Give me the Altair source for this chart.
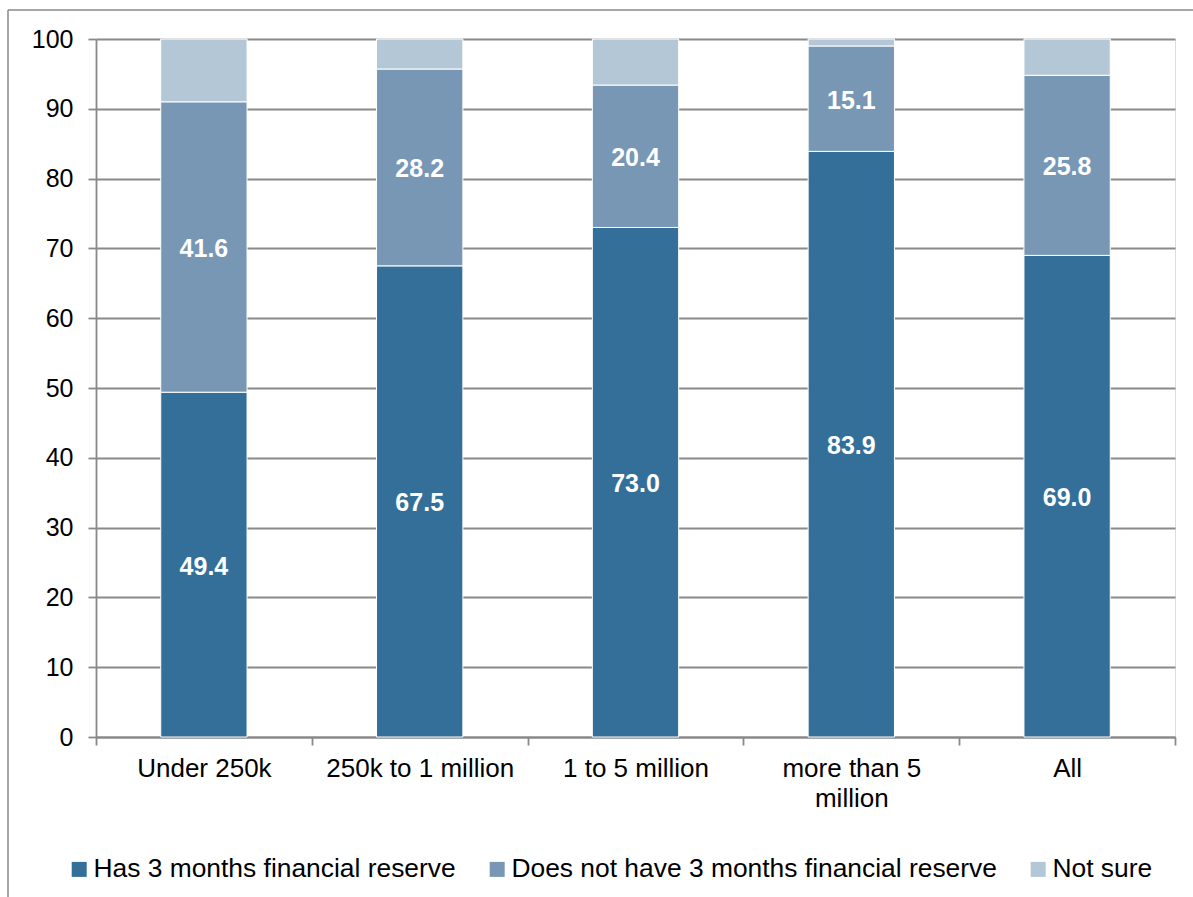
import altair as alt
import pandas as pd

categories = ["Under 250k", "250k to 1 million", "1 to 5 million", "more than 5 million", "All"]
series = ["Has 3 months financial reserve", "Does not have 3 months financial reserve", "Not sure"]
has_reserve = [49.4, 67.5, 73.0, 83.9, 69.0]
no_reserve = [41.6, 28.2, 20.4, 15.1, 25.8]
not_sure = [9.0, 4.3, 6.6, 1.0, 5.2]
colors = ["#346f99", "#7897b5", "#b4c7d7"]

rows = []
for i, c in enumerate(categories):
    for k, (s, vals) in enumerate(zip(series, [has_reserve, no_reserve, not_sure])):
        rows.append({"category": c, "series": s, "value": vals[i], "order": k,
                     "label": f"{vals[i]:.1f}" if k < 2 else ""})
df = pd.DataFrame(rows)

FONT = "Liberation Sans"
GRID = "#898989"

x_enc = alt.X("category:N", sort=categories, title=None,
              scale=alt.Scale(paddingInner=0, paddingOuter=0),
              axis=alt.Axis(labelAngle=0, labelFontSize=26, labelFont=FONT, labelColor="#000",
                            labelPadding=10, tickSize=8, tickColor=GRID, tickWidth=1.8,
                            domainColor=GRID, domainWidth=1.8, tickBand="extent",
                            labelLimit=400, labelLineHeight=30,
                            labelExpr="datum.label == 'more than 5 million' ? ['more than 5', 'million'] : datum.label"))

bars = alt.Chart(df).mark_bar(width={"band": 0.4}, stroke="white", strokeWidth=1).encode(
    x=x_enc,
    y=alt.Y("value:Q", stack="zero", title=None,
            scale=alt.Scale(domain=[0, 100], nice=False),
            axis=alt.Axis(values=list(range(0, 101, 10)), labelFontSize=25, labelFont=FONT,
                          labelColor="#000", labelPadding=15, tickSize=8, tickColor=GRID,
                          tickWidth=1.8, domainColor=GRID, domainWidth=1.8,
                          gridColor=GRID, gridWidth=1.8, grid=True)),
    color=alt.Color("series:N", sort=series, scale=alt.Scale(domain=series, range=colors),
                    legend=alt.Legend(title=None, orient="none", direction="horizontal",
                                      legendX=-30, legendY=817, symbolType="square",
                                      symbolSize=225, symbolStrokeWidth=0, labelFontSize=26.4,
                                      labelFont=FONT, labelColor="#000", labelOffset=1,
                                      columnPadding=28, labelLimit=800)),
    order=alt.Order("order:Q"),
)

labels = alt.Chart(df).transform_stack(
    stack="value", groupby=["category"], as_=["y0", "y1"],
    sort=[alt.SortField("order", order="ascending")]
).transform_calculate(mid="(datum.y0 + datum.y1) / 2").transform_filter(
    "datum.label != ''"
).mark_text(color="white", fontSize=25, fontWeight="bold", font=FONT, dy=2).encode(
    x=alt.X("category:N", sort=categories),
    y=alt.Y("mid:Q"),
    text="label:N",
)

frame_data = alt.Data(values=[{"a": 1}])
frame_v = alt.Chart(frame_data).mark_rule(color=GRID, strokeWidth=1.5).encode(
    x=alt.value(-88), y=alt.value(-29), y2=alt.value(900))
frame_h = alt.Chart(frame_data).mark_rule(color=GRID, strokeWidth=1.5).encode(
    x=alt.value(-88), x2=alt.value(1200), y=alt.value(-29))

chart = alt.layer(bars, labels, frame_v, frame_h).properties(
    width=1079, height=698,
    autosize=alt.AutoSizeParams(type="none"),
    padding={"left": 96, "top": 39, "right": 18, "bottom": 160},
).configure_view(stroke=None).configure(background="white")

chart.save("out.html", embed_options={"renderer": "svg", "actions": False})
